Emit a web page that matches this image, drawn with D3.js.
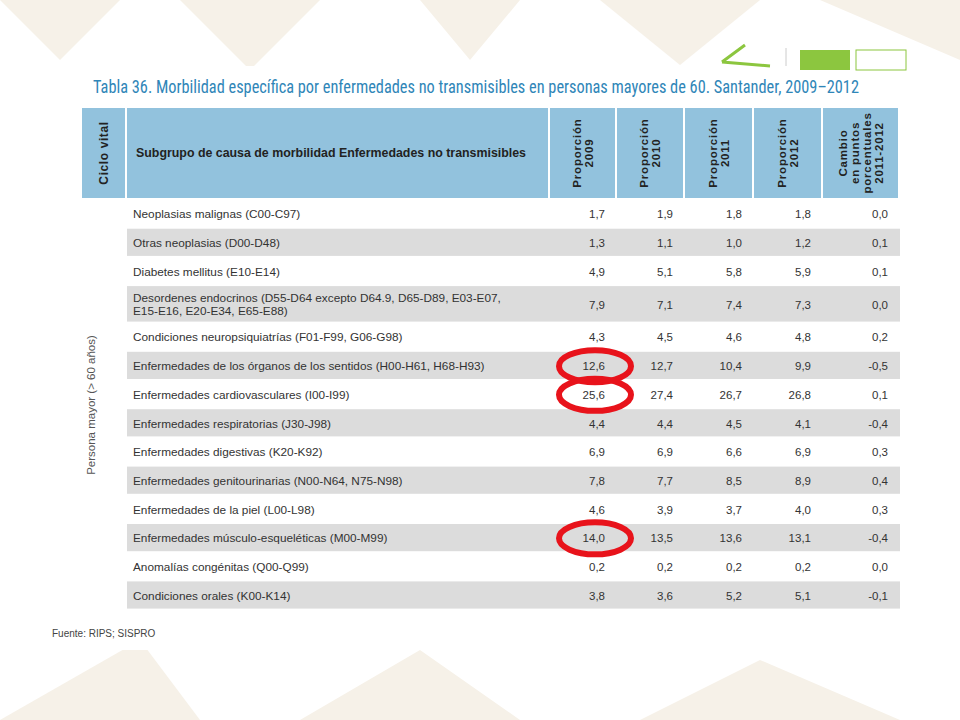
<!DOCTYPE html>
<html><head><meta charset="utf-8">
<script src="https://cdn.jsdelivr.net/npm/d3@7"></script>
<style>body{margin:0;background:#fff}svg{display:block}</style>
</head><body><svg id="c" width="960" height="720"></svg>
<script>
const categories = [
 "Neoplasias malignas (C00-C97)",
 "Otras neoplasias (D00-D48)",
 "Diabetes mellitus (E10-E14)",
 "Desordenes endocrinos (D55-D64 excepto D64.9, D65-D89, E03-E07,|E15-E16, E20-E34, E65-E88)",
 "Condiciones neuropsiquiatrías (F01-F99, G06-G98)",
 "Enfermedades de los órganos de los sentidos (H00-H61, H68-H93)",
 "Enfermedades cardiovasculares (I00-I99)",
 "Enfermedades respiratorias (J30-J98)",
 "Enfermedades digestivas (K20-K92)",
 "Enfermedades genitourinarias (N00-N64, N75-N98)",
 "Enfermedades de la piel (L00-L98)",
 "Enfermedades músculo-esqueléticas (M00-M99)",
 "Anomalías congénitas (Q00-Q99)",
 "Condiciones orales (K00-K14)"];
const p2009 = [1.7,1.3,4.9,7.9,4.3,12.6,25.6,4.4,6.9,7.8,4.6,14.0,0.2,3.8];
const p2010 = [1.9,1.1,5.1,7.1,4.5,12.7,27.4,4.4,6.9,7.7,3.9,13.5,0.2,3.6];
const p2011 = [1.8,1.0,5.8,7.4,4.6,10.4,26.7,4.5,6.6,8.5,3.7,13.6,0.2,5.2];
const p2012 = [1.8,1.2,5.9,7.3,4.8,9.9,26.8,4.1,6.9,8.9,4.0,13.1,0.2,5.1];
const cambio = [0.0,0.1,0.1,0.0,0.2,-0.5,0.1,-0.4,0.3,0.4,0.3,-0.4,0.0,-0.1];
const headers = ["Proporción|2009","Proporción|2010","Proporción|2011","Proporción|2012","Cambio|en puntos|porcentuales|2011-2012"];
const highlighted = [5,6,11];

const svg = d3.select("#c");
const bg = svg.append("g");
[[0,0,120,0,60,60],[180,0,320,0,250,70],[420,0,520,0,470,60],[600,0,760,0,680,65],[0,720,140,640,200,720],[300,720,420,650,520,720],[640,720,760,660,900,720],[820,0,960,0,960,60]].forEach(p=>{
 bg.append("polygon").attr("points",[[p[0],p[1]],[p[2],p[3]],[p[4],p[5]]].join(" ")).attr("fill","#f6f1e8");
});
svg.append("rect").attr("x",0).attr("y",66).attr("width",960).attr("height",584).attr("fill","#fff");
svg.append("path").attr("d","M722 62 L745 45 M722 62 L770 66").attr("stroke","#8cc63f").attr("stroke-width",3).attr("fill","none");
svg.append("line").attr("x1",786).attr("x2",786).attr("y1",48).attr("y2",66).attr("stroke","#ccc");
svg.append("rect").attr("x",800).attr("y",50).attr("width",50).attr("height",20).attr("fill","#8cc63f");
svg.append("rect").attr("x",856).attr("y",50).attr("width",50).attr("height",20).attr("fill","#fff").attr("stroke","#8cc63f");

svg.append("text").attr("x",476).attr("y",93).attr("text-anchor","middle")
 .attr("font-family","Liberation Sans Narrow, Roboto Condensed, Arial Narrow, sans-serif").attr("font-size",17.5).attr("fill","#2f86b8")
 .attr("textLength",766).attr("lengthAdjust","spacingAndGlyphs")
 .text("Tabla 36. Morbilidad específica por enfermedades no transmisibles en personas mayores de 60. Santander,  2009–2012");

const colX = [82,127,550,617,685,754,823,900];
const hy=108,hh=90;
for(let i=0;i<7;i++){
 svg.append("rect").attr("x",colX[i]).attr("y",hy).attr("width",colX[i+1]-colX[i]-2).attr("height",hh).attr("fill","#92c2dd");
}
const F="Liberation Sans, Arial, sans-serif";
svg.append("text").attr("transform",`translate(108,${hy+hh/2}) rotate(-90)`).attr("text-anchor","middle")
 .attr("font-family",F).attr("font-weight","bold").attr("font-size",12).attr("fill","#222").attr("letter-spacing",0.6).text("Ciclo vital");
svg.append("text").attr("x",136).attr("y",hy+hh/2+4).attr("font-family",F).attr("font-weight","bold").attr("font-size",12).attr("fill","#222")
 .attr("textLength",390).attr("lengthAdjust","spacingAndGlyphs")
 .text("Subgrupo de causa de morbilidad Enfermedades no transmisibles");
headers.forEach((h,i)=>{
 const lines=h.split("|");const cx=(colX[i+2]+colX[i+3]-2)/2;
 const t=svg.append("text").attr("transform",`translate(${cx},${hy+hh/2}) rotate(-90)`).attr("text-anchor","middle")
  .attr("font-family",F).attr("font-weight","bold").attr("font-size",11.5).attr("fill","#222").attr("letter-spacing",0.8);
 lines.forEach((l,k)=>t.append("tspan").attr("x",0).attr("dy",k==0?(-(lines.length-1)*12/2+4):12).text(l));
});

const heights = categories.map(c=>c.includes("|")?37:28.7);
const ys=[];let acc=200;heights.forEach(h=>{ys.push(acc);acc+=h;});
const y = d3.scaleOrdinal().domain(d3.range(categories.length)).range(ys);
const rows = svg.append("g").selectAll("g").data(categories).join("g").attr("transform",(d,i)=>`translate(0,${y(i)})`);
rows.append("rect").attr("x",127).attr("width",773).attr("height",(d,i)=>heights[i]-1.5)
 .attr("fill",(d,i)=>i%2?"#dcdcdc":"#fff");
rows.each(function(d,i){
 const g=d3.select(this),h=heights[i],lines=d.split("|");
 const t=g.append("text").attr("font-family",F).attr("font-size",11.8).attr("fill","#333");
 lines.forEach((l,k)=>t.append("tspan").attr("x",133).attr("y",h/2+4-(lines.length-1)*6.5+k*13).text(l));
 [p2009[i],p2010[i],p2011[i],p2012[i],cambio[i]].forEach((v,j)=>{
  g.append("text").attr("x",colX[j+3]-12).attr("y",h/2+4).attr("text-anchor","end")
   .attr("font-family",F).attr("font-size",11.5).attr("fill","#333").text(d3.format(".1f")(v).replace(".",",").replace("−","-"));
 });
});
svg.append("text").attr("transform",`translate(95,405) rotate(-90)`).attr("text-anchor","middle")
 .attr("font-family",F).attr("font-size",11.5).attr("fill","#555").text("Persona mayor (> 60 años)");
svg.append("text").attr("x",52).attr("y",637).attr("font-family",F).attr("font-size",10).attr("fill","#444").text("Fuente: RIPS; SISPRO");

svg.append("g").selectAll("ellipse").data(highlighted).join("ellipse")
 .attr("cx",595).attr("cy",i=>y(i)+heights[i]/2).attr("rx",36).attr("ry",16)
 .attr("fill","none").attr("stroke","#e8131b").attr("stroke-width",6);
</script></body></html>
